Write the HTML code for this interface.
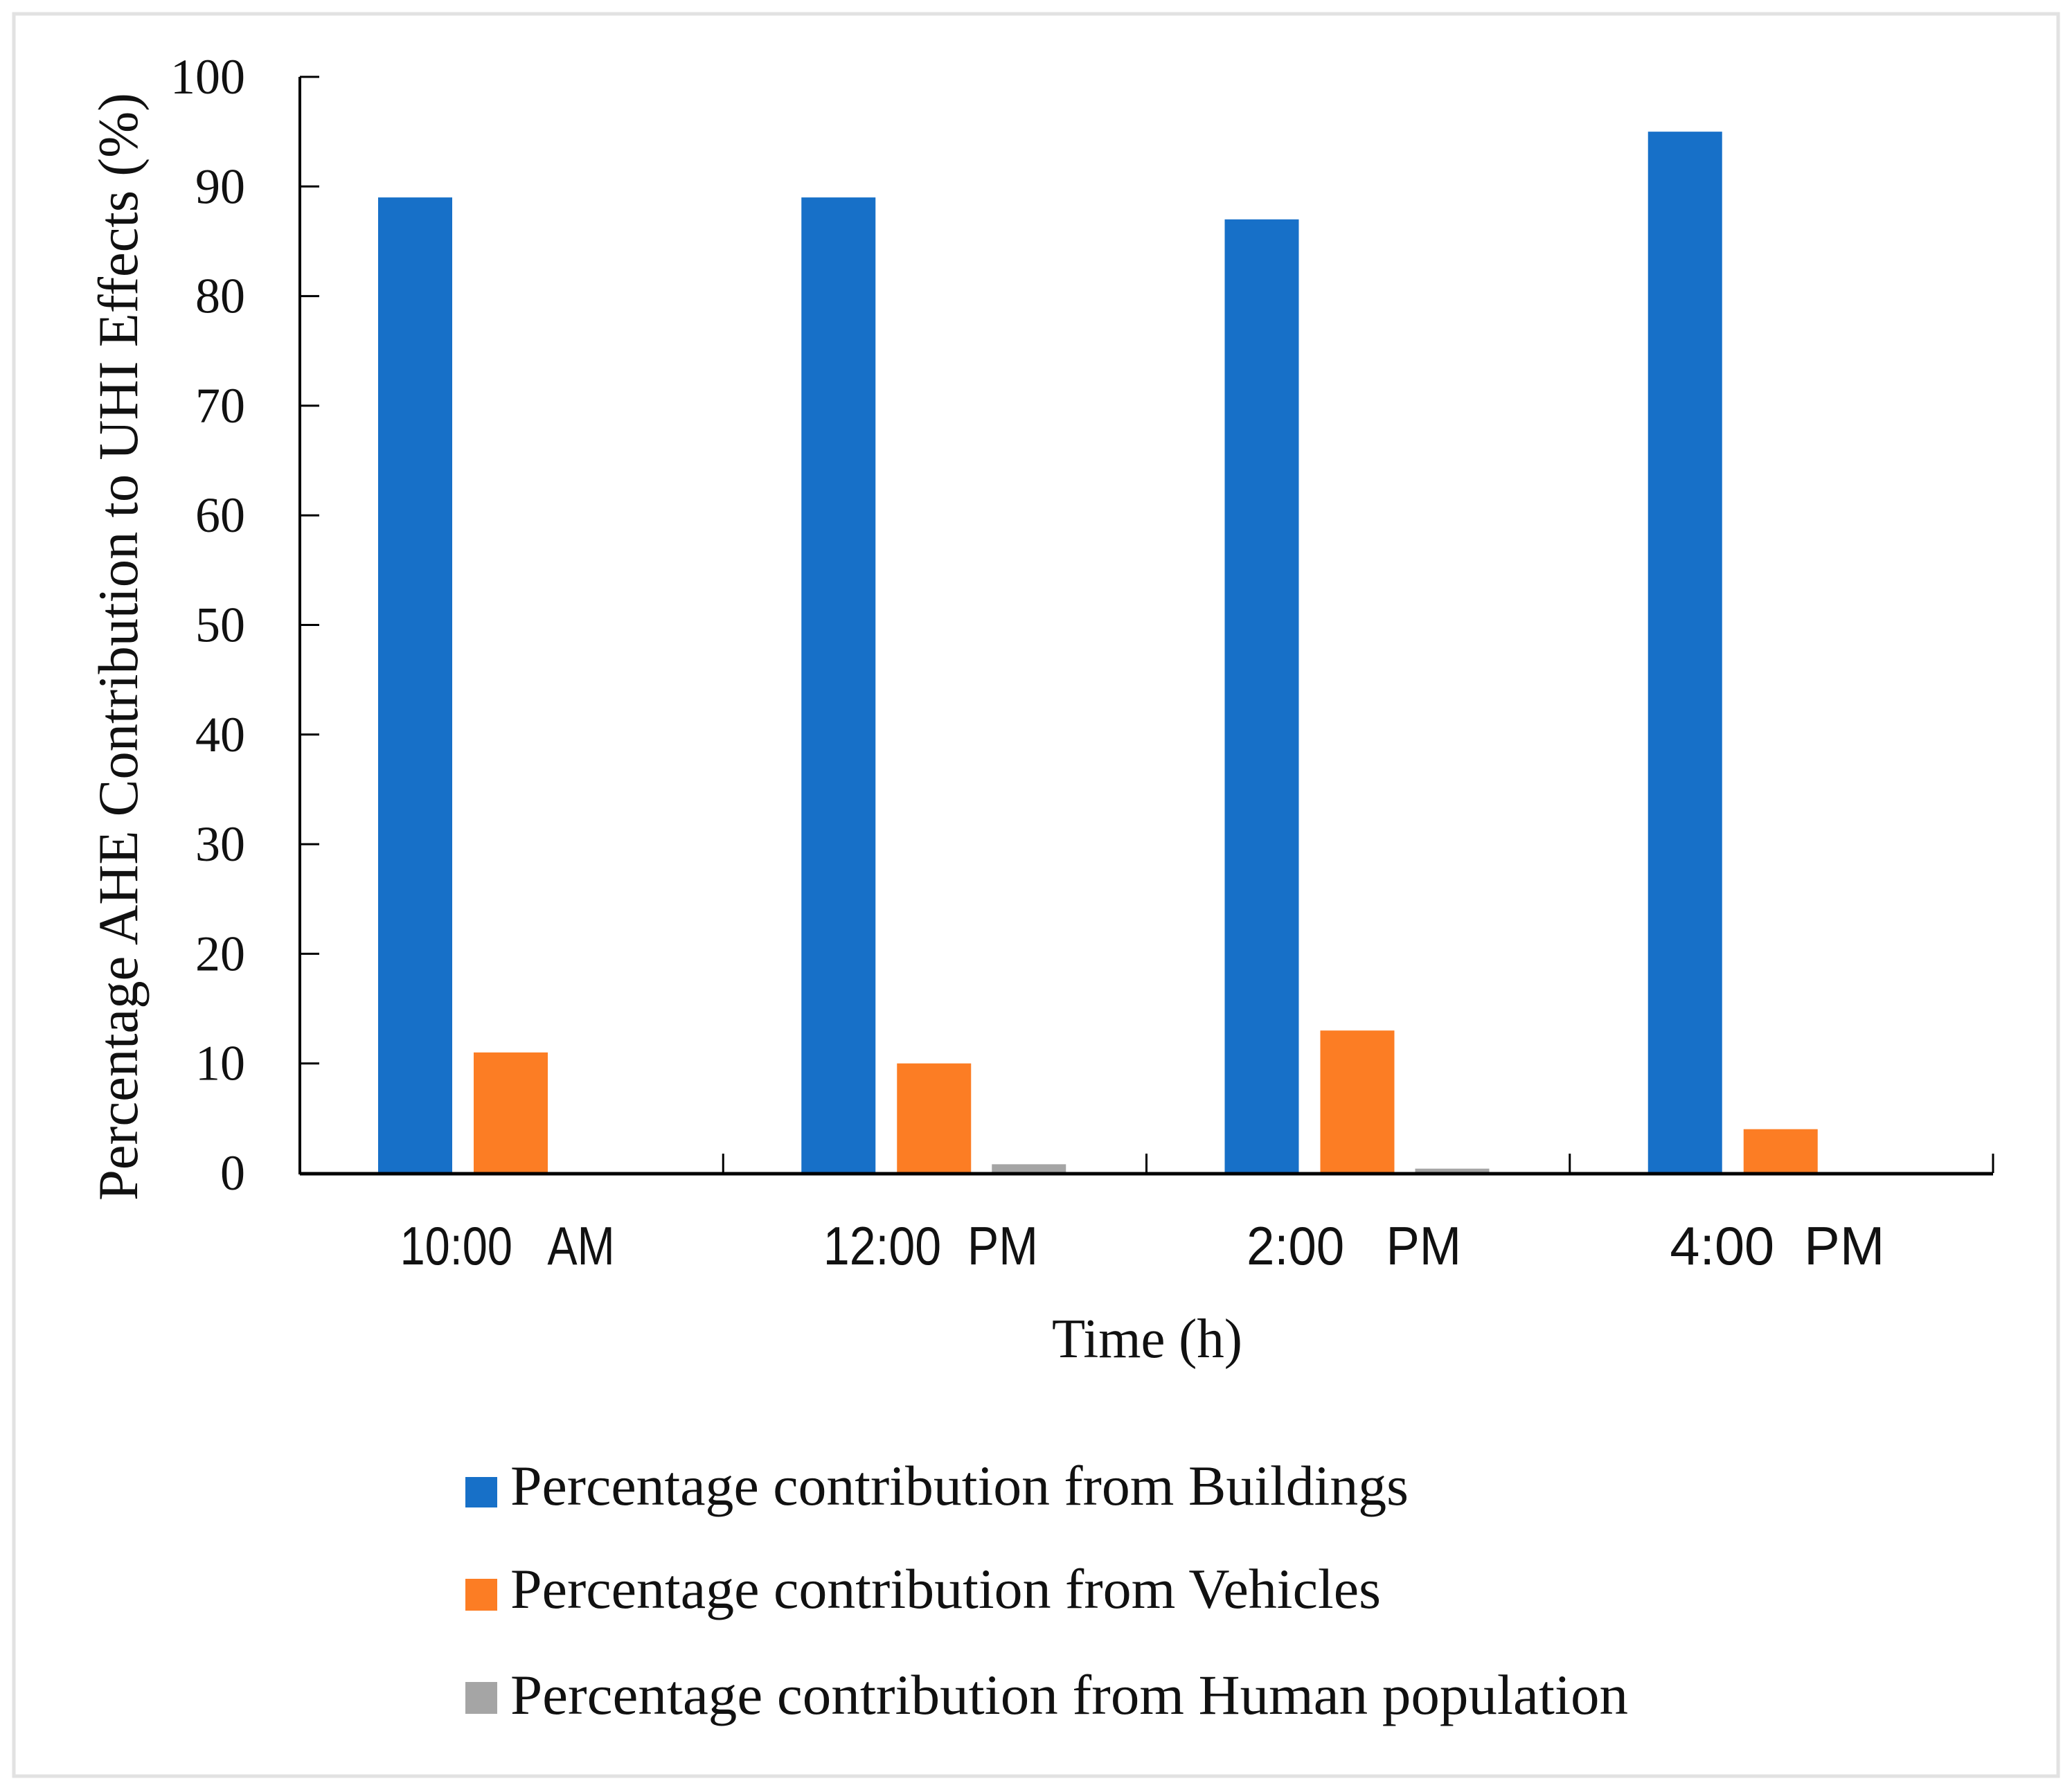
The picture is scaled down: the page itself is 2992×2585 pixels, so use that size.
<!DOCTYPE html>
<html><head><meta charset="utf-8"><style>
html,body{margin:0;padding:0;background:#fff;}
svg{display:block;}
</style></head><body>
<svg id="chart" width="2992" height="2585" viewBox="0 0 2992 2585" xmlns="http://www.w3.org/2000/svg">
<rect x="20" y="20" width="2952" height="2545" fill="#fff" stroke="#e2e2e2" stroke-width="5"/>
<g id="plot"></g>
<text transform="translate(198,934) rotate(-90)" text-anchor="middle" font-family="Liberation Serif, serif" font-size="82" textLength="1600" lengthAdjust="spacingAndGlyphs" fill="#111">Percentage AHE Contribution to UHI Effects (%)</text>
<text x="1519" y="1960" font-family="Liberation Serif, serif" font-size="80" textLength="275" lengthAdjust="spacingAndGlyphs" fill="#111">Time (h)</text>
<g>
<g>
<rect x="672" y="2133" width="46" height="44" fill="#1770C8"/>
<text x="737" y="2173" font-family="Liberation Serif, serif" font-size="82" textLength="1297" lengthAdjust="spacingAndGlyphs" fill="#111">Percentage contribution from Buildings</text>
</g>
<g>
<rect x="672" y="2280" width="46" height="46" fill="#FC7D24"/>
<text x="737" y="2322" font-family="Liberation Serif, serif" font-size="82" textLength="1257" lengthAdjust="spacingAndGlyphs" fill="#111">Percentage contribution from Vehicles</text>
</g>
<g>
<rect x="672" y="2429" width="46" height="46" fill="#A5A5A5"/>
<text x="737" y="2475" font-family="Liberation Serif, serif" font-size="82" textLength="1614" lengthAdjust="spacingAndGlyphs" fill="#111">Percentage contribution from Human population</text>
</g>
</g>
</svg>
<script>
const categories = ["10:00   AM", "12:00  PM", "2:00   PM", "4:00  PM"];
const buildings = [89, 89, 87, 95];
const vehicles = [11, 10, 13, 4];
const human = [0, 0.8, 0.4, 0];
const yTicks = [0, 10, 20, 30, 40, 50, 60, 70, 80, 90, 100];

const NS = "http://www.w3.org/2000/svg";
const plot = document.getElementById("plot");
const X0 = 433, X1 = 2878, Y0 = 1694, Y100 = 111;
const groupW = (X1 - X0) / categories.length;
function yScale(v) { return Y0 - (v / 100) * (Y0 - Y100); }
function xGroup(i) { return X0 + i * groupW; }
function mk(tag, attrs) {
  const e = document.createElementNS(NS, tag);
  for (const k in attrs) e.setAttribute(k, attrs[k]);
  plot.appendChild(e);
  return e;
}
const series = [
  {vals: buildings, color: "#1770C8", name: "buildings", off: 113},
  {vals: vehicles, color: "#FC7D24", name: "vehicles", off: 251},
  {vals: human, color: "#A5A5A5", name: "human", off: 388}
];
series.forEach(s => {
  s.vals.forEach((v, i) => {
    const y = yScale(v);
    const r = mk("rect", {x: xGroup(i) + s.off, y: y, width: 107, height: Y0 - y, fill: s.color});
    
    
  });
});
const ya = mk("line", {x1: X0, y1: Y100, x2: X0, y2: Y0 + 2, stroke: "#000", "stroke-width": 4});


yTicks.forEach(t => {
  const y = yScale(t);
  const tk = mk("line", {x1: X0, y1: y, x2: X0 + 28, y2: y, stroke: "#000", "stroke-width": 3});
  
  
  const lb = mk("text", {x: 354, y: y, "text-anchor": "end", "dominant-baseline": "central", "font-family": "Liberation Serif, serif", "font-size": 72, fill: "#111"});
  lb.textContent = t;
  
  
});
const xa = mk("line", {x1: X0, y1: Y0 + 1, x2: X1, y2: Y0 + 1, stroke: "#000", "stroke-width": 5});


for (let i = 1; i <= categories.length; i++) {
  const tk = mk("line", {x1: xGroup(i), y1: Y0 - 28, x2: xGroup(i), y2: Y0, stroke: "#000", "stroke-width": 3});
  
  
}
categories.forEach((c, i) => {
  const lb = mk("text", {x: xGroup(i) + groupW / 2 - 6, y: 1826, "text-anchor": "middle", "font-family": "Liberation Sans Narrow, Liberation Sans, sans-serif", "font-size": 78, textLength: 310, lengthAdjust: "spacingAndGlyphs", fill: "#111"});
  lb.style.whiteSpace = "pre";
  lb.textContent = c;
  
  
});
</script>
</body></html>
